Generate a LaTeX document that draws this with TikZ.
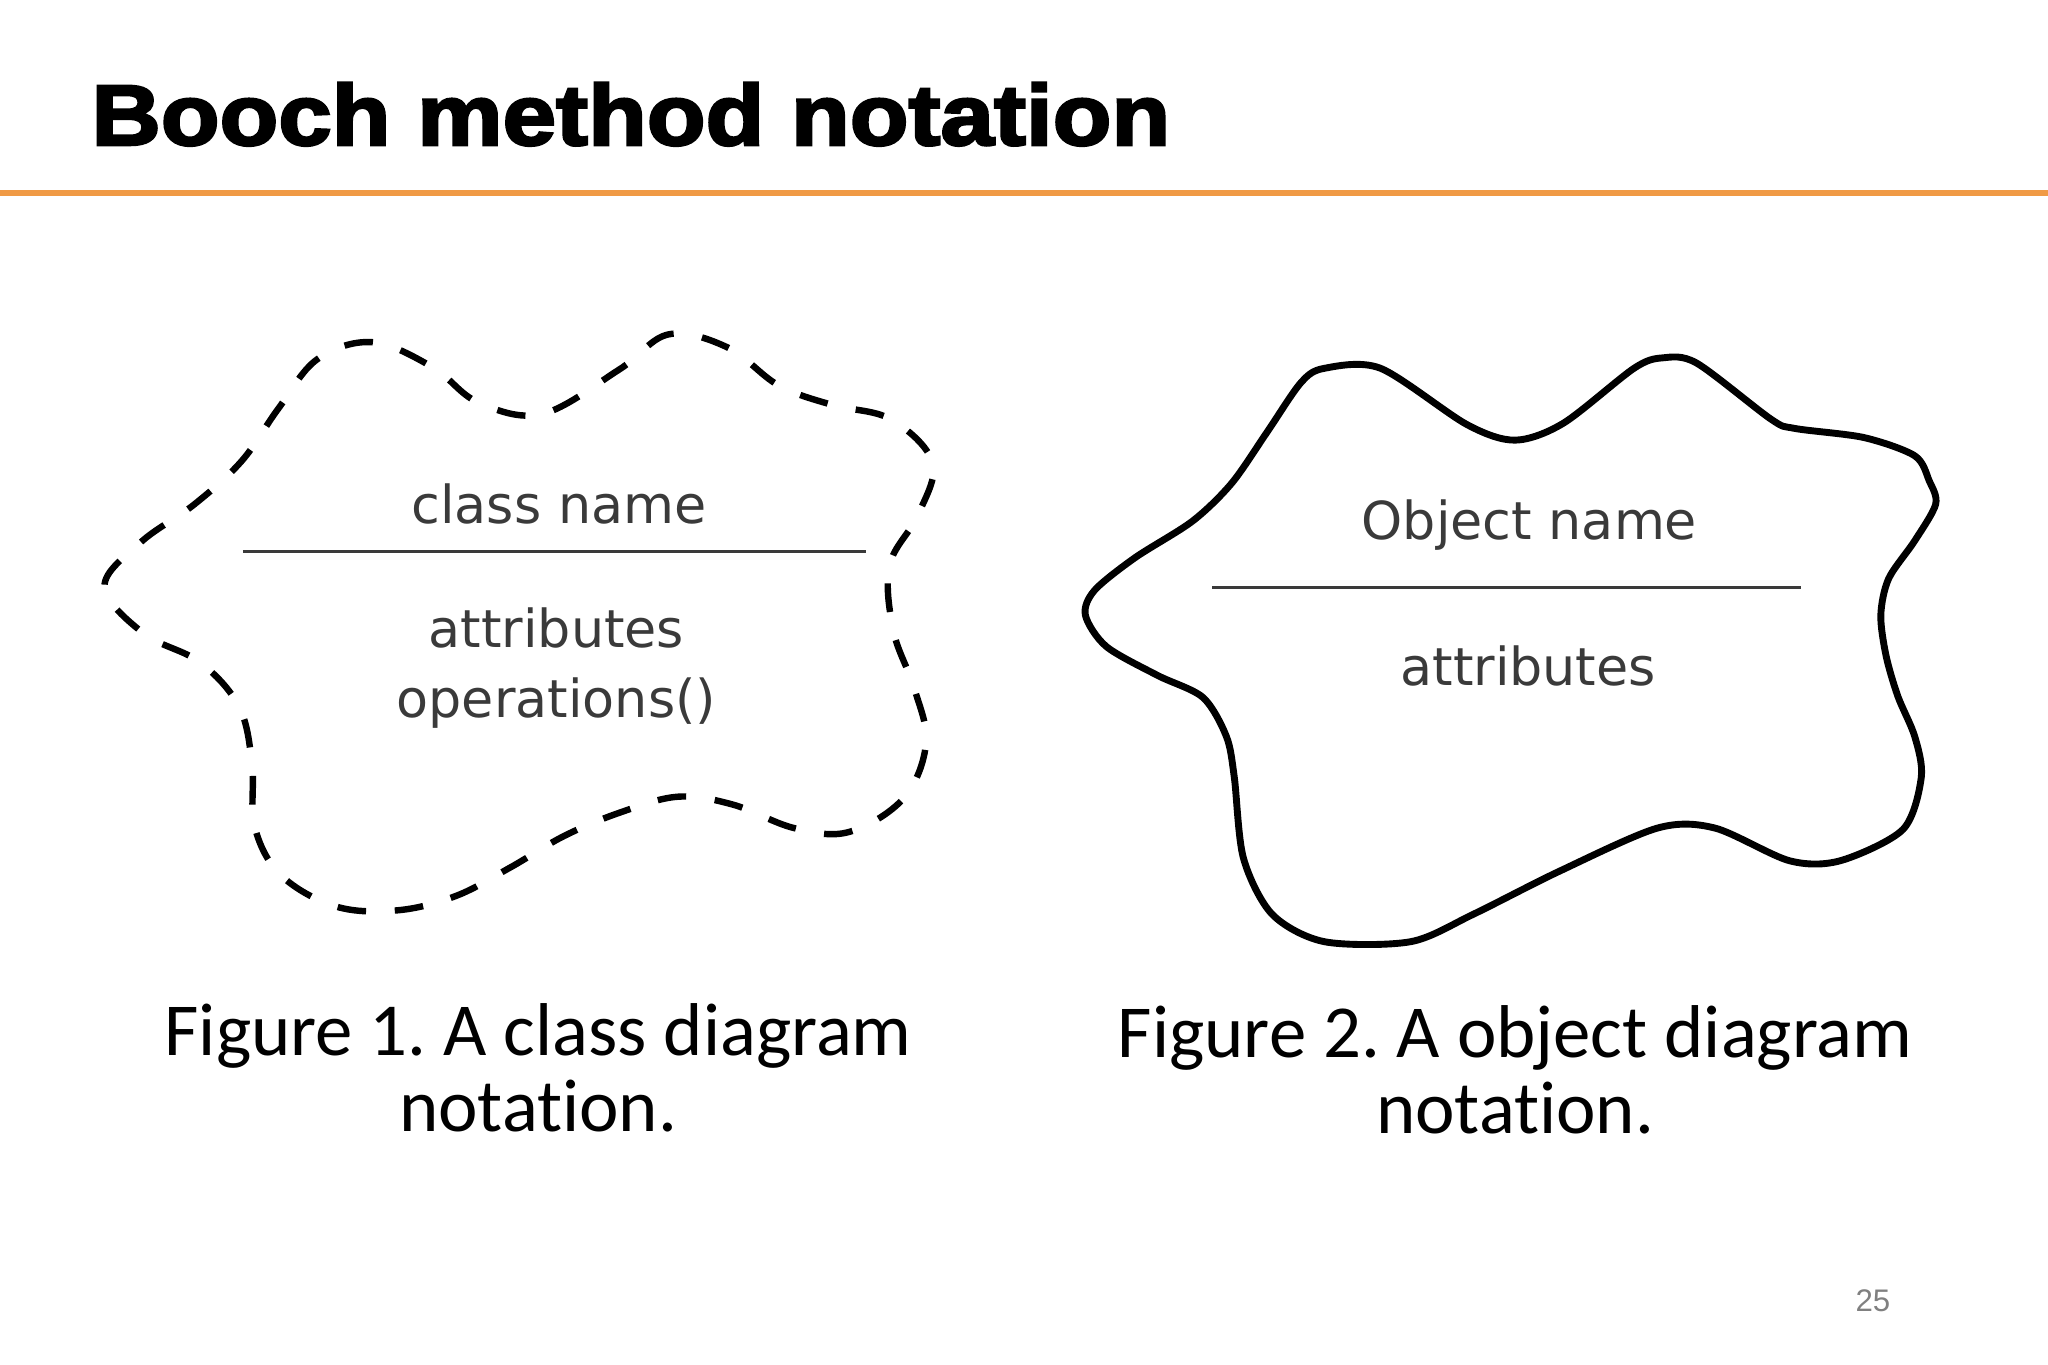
\documentclass[tikz,border=0pt]{standalone}
\usepackage{fontspec}
\usepackage{tikz}
\setmainfont{Liberation Sans}
\newfontfamily\titlefont{Liberation Sans}[FakeStretch=1.12,BoldFeatures={FakeBold=3}]
\newfontfamily\figfont{DejaVu Sans}
\newfontfamily\capfont{Carlito}[Ligatures=NoCommon]
\definecolor{ruleorange}{HTML}{F09A45}
\definecolor{figgray}{HTML}{3A3A3A}
\frenchspacing

\begin{document}
\begin{tikzpicture}[x=0.1mm,y=-0.1mm,semithick]

  \tikzstyle{every node}=[inner sep=0pt,outer sep=0pt]
  \tikzstyle{figtext}=[anchor=base,text=figgray,align=center,
                       font=\figfont\fontsize{11.4}{15.1}\selectfont]
  \tikzstyle{captext}=[anchor=base,align=center,
                       font=\capfont\fontsize{16.3}{16.5}\selectfont]
  \tikzstyle{divider}=[draw=figgray,line width=0.6pt]
  \tikzstyle{dashcloud}=[draw=black,line width=1.4pt,dash pattern=on 2.2mm off 2.2mm]
  \tikzstyle{solidcloud}=[draw=black,line width=1.5pt,line join=round]

  \useasboundingbox (0,0) rectangle (1568,1045);

  \node[anchor=base west,font=\titlefont\bfseries\fontsize{18.7}{20}\selectfont]
       (title) at (70,111) {Booch method notation};
  \draw[ruleorange,line width=1.3pt] (0,148) -- (1568,148);

  % class cloud
  \path[dashcloud] plot[smooth cycle,tension=0.6] coordinates {
    (80,449) (108,415) (149,386) (185,353) (213,313) (243,275) (285,262)
    (331,281) (366,308) (415,317) (474,283) (512,256) (557,266) (596,295)
    (637,310) (682,321) (714,354) (703,394) (681,433) (684,483) (700,527)
    (709,569) (692,611) (650,637) (608,634) (561,616) (519,610) (475,622)
    (432,640) (391,664) (349,686) (304,697) (257,694) (215,670) (195,633)
    (193,585) (183,541) (153,507) (110,485)};
  \node[figtext] (clsname) at (428,401) {class name};
  \coordinate (clsl) at (186,422);
  \coordinate (clsr) at (663,422);
  \path[divider] (clsl) -- (clsr);
  \node[figtext] (clsbody) at (426,549) {attributes\\operations()};

  % object cloud
  \path[solidcloud] plot[smooth cycle,tension=0.5] coordinates {
    (831,471) (847,495) (886,517) (921,534) (939,564) (945,595) (952,657)
    (974,700) (1014,721) (1080,721) (1128,700) (1194,667) (1269,634)
    (1313,634) (1370,659) (1409,659) (1457,635) (1471,595) (1466,564)
    (1453,533) (1444,502) (1440,471) (1446,443) (1466,414) (1482,386)
    (1477,368) (1466,349) (1427,335) (1374,328) (1356,321) (1299,278)
    (1273,274) (1251,282) (1197,324) (1160,337) (1123,325)
    (1057,282) (1014,282) (996,293) (970,331) (943,370) (913,399)
    (869,427) (838,452)};
  \node[figtext] (objname) at (1171,413) {Object name};
  \coordinate (objl) at (928,450);
  \coordinate (objr) at (1379,450);
  \path[divider] (objl) -- (objr);
  \node[figtext] (objattr) at (1170,525) {attributes};

  \node[captext] (cap1) at (412,866) {Figure 1. A class diagram\\notation.};
  \node[captext] (cap2) at (1160,868) {Figure 2. A object diagram\\notation.};

  \node[anchor=base,text=gray,font=\fontsize{6.8}{8}\selectfont]
       (pagenum) at (1434,1004) {25};
\end{tikzpicture}
\end{document}
